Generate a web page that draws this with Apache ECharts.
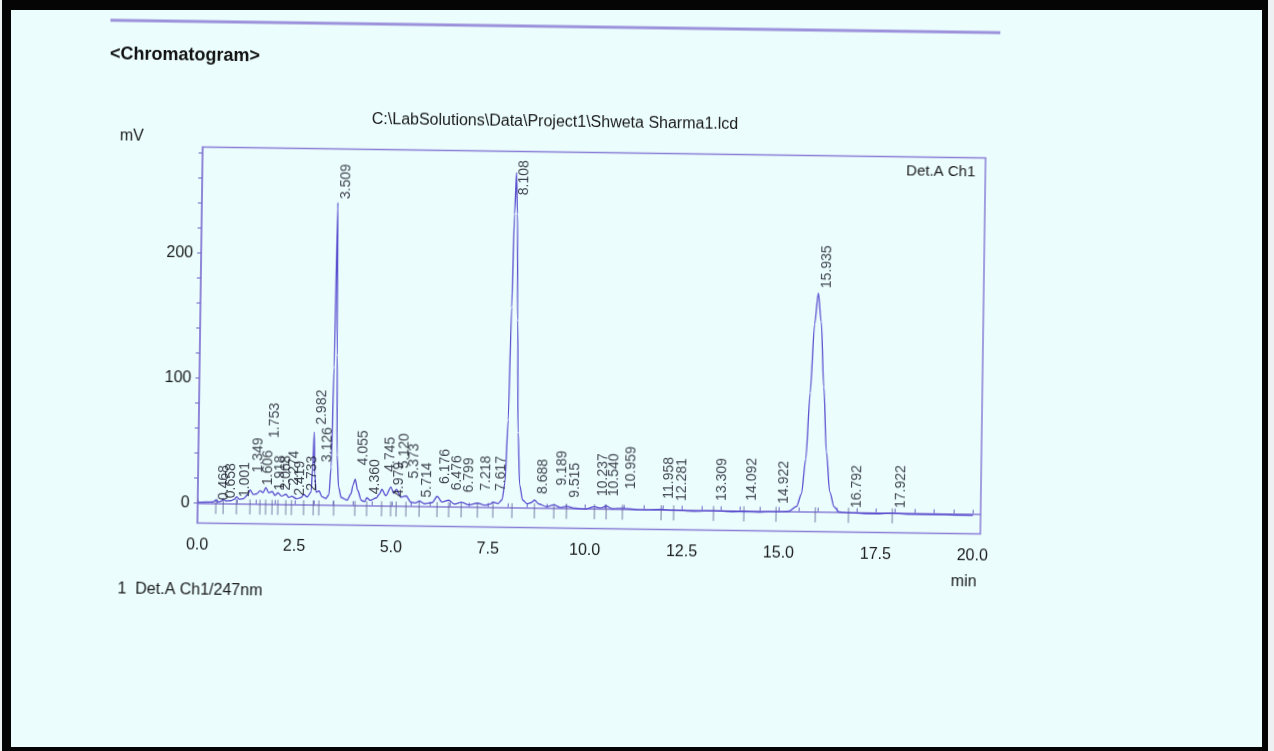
<!DOCTYPE html>
<html>
<head>
<meta charset="utf-8">
<script src="https://cdn.jsdelivr.net/npm/echarts@6/dist/echarts.min.js"></script>
<style>
html,body{margin:0;padding:0;width:1274px;height:751px;overflow:hidden;background:#eef1f1;}
#frame{position:absolute;left:2px;top:0;width:1266px;height:751px;box-sizing:border-box;border-style:solid;border-color:#050505;border-width:10px 6px 4px 9px;background:#ebfdfd;}
#chart{position:absolute;left:0;top:0;width:1274px;height:751px;transform:rotate(0.8deg);transform-origin:592px 340px;}
</style>
</head>
<body>
<div id="frame"></div>
<div id="chart"></div>
<script>
// Retention times of labelled peaks (min)
const peakTimes = ['0.468','0.658','1.001','1.349','1.606','1.753','1.918','2.068','2.274','2.419','2.733','2.982','3.126','3.509',
  '4.055','4.360','4.745','4.979','5.120','5.373','5.714','6.176','6.476','6.799','7.218','7.617','8.108','8.688','9.189','9.515',
  '10.237','10.540','10.959','11.958','12.281','13.309','14.092','14.922','15.935','16.792','17.922'];
// Height (mV) at which each rotated peak label starts
const labelHeights = [2.6,4.2,5.2,25,15,53,11,11,15,7,11,64,34,245,
  32,9,27,7,30,22,7,18,13,11.5,13,13,250,11,18,8.5,
  10,10,16,8.6,7,7.6,8,6,179,3.4,3.8];
// Detector signal trace [time (min), mV]
const trace = [
[0.00,0.5],[0.20,0.8],[0.40,1.0],[0.468,2.5],[0.53,1.2],[0.60,1.5],[0.658,3.5],[0.72,2.0],[0.85,2.2],[0.95,3.5],[1.001,5.5],[1.07,3.5],
[1.18,4.0],[1.28,7.0],[1.349,11.0],[1.43,7.5],[1.52,8.0],[1.606,10.5],[1.68,9.0],[1.753,13.0],[1.83,9.0],[1.918,10.0],[1.99,7.0],
[2.068,9.0],[2.16,6.5],[2.274,8.0],[2.35,5.5],[2.419,6.5],[2.55,4.5],[2.66,5.5],[2.733,8.0],[2.82,6.0],[2.92,10.0],[2.955,30],
[2.982,58.0],[3.01,25],[3.05,10.0],[3.126,11.0],[3.20,6.5],[3.30,5.0],[3.38,8.0],[3.43,30],[3.47,110],[3.509,242],[3.545,120],
[3.58,40],[3.63,14],[3.70,6],[3.85,4],[3.95,9],[4.00,16],[4.055,21],[4.12,12],[4.22,4],[4.30,3],[4.36,6],[4.45,4],[4.60,6],
[4.68,9],[4.745,13],[4.85,8],[4.979,15],[5.05,10],[5.12,13],[5.24,7],[5.373,8],[5.50,3],[5.62,2.5],[5.714,4],[5.85,2],[6.05,3],
[6.176,8],[6.30,3.5],[6.476,5],[6.62,2],[6.799,3.5],[7.00,1.5],[7.218,3],[7.40,1.5],[7.55,2.5],[7.617,4],[7.75,3],[7.85,6],
[7.92,20],[7.98,70],[8.03,160],[8.07,235],[8.108,268],[8.145,235],[8.19,150],[8.24,60],[8.30,18],[8.38,6],[8.50,3],[8.60,4],
[8.688,6],[8.80,3],[9.00,1],[9.189,2.5],[9.35,0.5],[9.515,1.5],[9.75,0],[10.00,-0.5],[10.237,1.5],[10.40,0.5],[10.54,2],[10.70,0],
[10.959,0.5],[11.40,-0.5],[11.958,0],[12.281,-0.5],[12.80,-1],[13.309,-0.5],[13.80,-1],[14.092,-0.8],[14.50,-1],[14.922,-0.5],
[15.25,0],[15.45,4],[15.57,14],[15.67,42],[15.76,95],[15.85,150],[15.935,175],[16.02,152],[16.11,100],[16.20,48],[16.30,16],
[16.42,4],[16.55,0],[16.792,-0.5],[17.20,-1],[17.60,-1],[17.922,-0.5],[18.30,-1],[19.00,-1],[19.60,-1.2],[20.00,-1.2]];
// Axis ticks and labels
const xLabelValues = [0, 2.5, 5, 7.5, 10, 12.5, 15, 17.5, 20];
const yLabelValues = [0, 100, 200];
const yTickValues = [0, 20, 40, 60, 80, 100, 120, 140, 160, 180, 200, 220, 240, 260, 280];

const xTickValues = [];
for (let i = 0; i <= 40; i++) xTickValues.push(i / 2);

const FONT = '"Liberation Sans", Arial, sans-serif';
const AXIS = '#8a7fd6';
const chart = echarts.init(document.getElementById('chart'));
chart.setOption({
  animation: false,
  grid: {left: 200, right: 291, top: 152.5, height: 376, show: true, borderColor: AXIS, borderWidth: 1.5, backgroundColor: 'transparent'},
  xAxis: {
    type: 'value', min: 0, max: 20.2,
    axisLine: {lineStyle: {color: AXIS, width: 1.5}},
    axisTick: {inside: true, length: 4, customValues: xTickValues, lineStyle: {color: '#6e64c4'}},
    axisLabel: {customValues: xLabelValues, formatter: v => v.toFixed(1), color: '#1a1a1a', fontFamily: FONT, fontSize: 16, margin: 14},
    splitLine: {show: false}
  },
  yAxis: {
    type: 'value', min: -16, max: 285,
    axisLine: {lineStyle: {color: AXIS, width: 1.5}},
    axisTick: {length: 4, customValues: yTickValues, lineStyle: {color: '#6e64c4'}},
    axisLabel: {customValues: yLabelValues, color: '#1a1a1a', fontFamily: FONT, fontSize: 16, margin: 8},
    splitLine: {show: false}
  },
  graphic: [
    {type: 'line', shape: {x1: 106, y1: 27, x2: 996, y2: 27}, style: {stroke: '#9c92dc', lineWidth: 3}},
    {type: 'text', x: 106, y: 61, style: {text: '<Chromatogram>', font: 'bold 18px ' + FONT, fill: '#111', textVerticalAlign: 'middle'}},
    {type: 'text', x: 552, y: 122.5, style: {text: 'C:\\LabSolutions\\Data\\Project1\\Shweta Sharma1.lcd', font: '16px ' + FONT, fill: '#1a1a1a', textAlign: 'center', textVerticalAlign: 'middle'}},
    {type: 'text', x: 117, y: 143, style: {text: 'mV', font: '16px ' + FONT, fill: '#1a1a1a', textVerticalAlign: 'middle'}},
    {type: 'text', x: 973, y: 167, style: {text: 'Det.A Ch1', font: '15px ' + FONT, fill: '#1a1a1a', textAlign: 'right', textVerticalAlign: 'middle'}},
    {type: 'text', x: 967, y: 577, style: {text: 'min', font: '16px ' + FONT, fill: '#1a1a1a', textAlign: 'center', textVerticalAlign: 'middle'}},
    {type: 'text', x: 121, y: 596, style: {text: '1  Det.A Ch1/247nm', font: '16px ' + FONT, fill: '#1a1a1a', textVerticalAlign: 'middle'}}
  ],
  series: [
    {
      type: 'line', data: trace, showSymbol: false, smooth: 0.3, smoothMonotone: 'x',
      lineStyle: {color: '#5a4fcf', width: 1.3}, z: 3
    },
    {
      type: 'scatter', data: peakTimes.map(t => [parseFloat(t), -2.5]),
      symbol: 'rect', symbolSize: [1, 15], itemStyle: {color: '#5a5d92'}, silent: true, z: 2
    },
    {
      type: 'scatter', symbolSize: 0, silent: true, z: 4,
      data: peakTimes.map((t, i) => ({name: t, value: [parseFloat(t), labelHeights[i]]})),
      label: {
        show: true, position: 'inside', rotate: 90, align: 'left', verticalAlign: 'middle',
        offset: [0, 8], formatter: p => p.name, color: '#111122', fontFamily: FONT, fontSize: 14
      }
    }
  ]
});
</script>
</body>
</html>
